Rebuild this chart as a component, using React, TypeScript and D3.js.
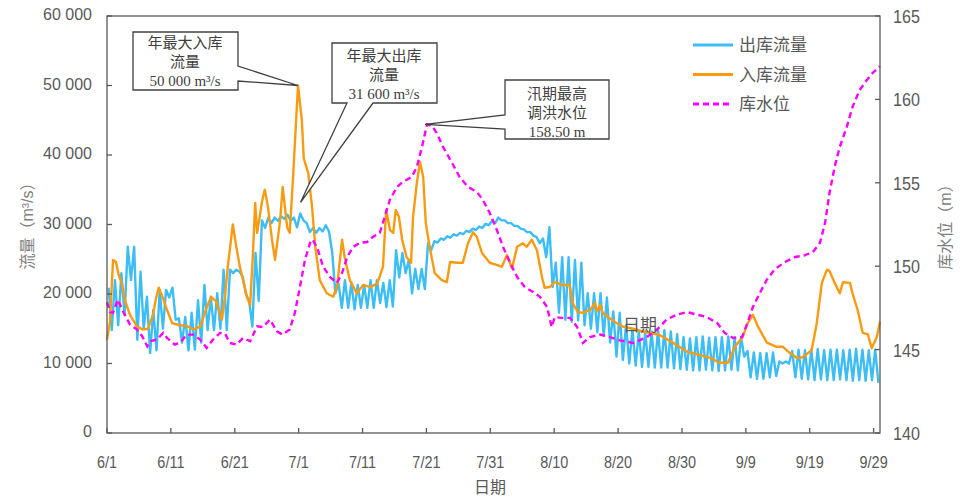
import React from 'react';
import * as d3 from 'd3';

// days counted from 6/1 (day 0) to the end of 9/30 (day 121)
const dateLabels = ['6/1', '6/11', '6/21', '7/1', '7/11', '7/21', '7/31', '8/10', '8/20', '8/30', '9/9', '9/19', '9/29'];
const flowTicks = [0, 10000, 20000, 30000, 40000, 50000, 60000];
const levelTicks = [140, 145, 150, 155, 160, 165];

// 入库流量 [day, m3/s]
const inflow: [number, number][] = [
  [0, 13400], [0.47, 16000], [0.94, 24900], [1.4, 24600], [1.9, 22500], [2.35, 21500], [2.8, 19100],
  [3.6, 17000], [4.7, 15300], [5.6, 14900], [6.4, 15000], [7.2, 17000], [7.7, 19500], [8.1, 20900],
  [8.6, 19800], [9.4, 17700], [10.2, 15800], [11.4, 15500], [12.5, 15400], [13.5, 14900], [14.6, 15300],
  [15.5, 17800], [16.3, 19600], [17.1, 18900], [18.0, 16300], [18.5, 20000], [18.9, 23900], [19.7, 30000],
  [20.2, 27000], [20.8, 23900], [21.9, 19600], [22.4, 18400], [22.8, 25000], [23.2, 33100], [23.5, 28800],
  [24.3, 33500], [24.7, 35000], [25.2, 32500], [25.8, 28000], [26.3, 24900], [27.1, 30600], [27.5, 35400],
  [28.2, 29600], [28.6, 28800], [29.1, 36400], [29.9, 50000], [30.5, 45000], [30.8, 39500], [31.5, 37400],
  [32.1, 32500], [32.6, 26800], [33.3, 22000], [34.4, 20100], [35.4, 19600], [36.0, 21000], [36.8, 27800],
  [37.2, 25300], [38.0, 22000], [39.1, 20100], [40.1, 21300], [41.2, 21000], [42.3, 21500], [43.2, 23900],
  [43.7, 32100], [44.3, 29200], [44.8, 28800], [45.2, 32100], [45.7, 31100], [46.2, 27800], [46.9, 25300],
  [47.6, 24500], [47.9, 31000], [48.5, 36000], [49.0, 39000], [49.5, 36800], [49.9, 30200], [50.5, 26800],
  [51.3, 23000], [52.4, 22000], [53.2, 21700], [53.7, 24600], [54.8, 24500], [55.7, 24500], [56.5, 27300],
  [57.3, 28900], [57.9, 28200], [58.7, 25900], [59.9, 24500], [61.0, 24200], [61.8, 23900], [62.6, 25600],
  [63.4, 23700], [64.2, 26800], [65.1, 27300], [65.7, 26800], [66.5, 27800], [67.3, 26300], [68.1, 22400],
  [68.5, 20900], [69.3, 21000], [70.1, 21700], [71.2, 21300], [72.4, 21300], [72.9, 18700], [73.7, 17400],
  [74.5, 17300], [75.6, 17700], [76.4, 18700], [76.7, 17500], [77.2, 18400], [77.6, 17300], [78.7, 16500],
  [79.8, 15800], [80.8, 15300], [82.3, 15000], [83.9, 14600], [86.5, 14100], [88.6, 13000], [90.8, 11700],
  [92.8, 11200], [94.4, 10800], [95.9, 10100], [97.2, 10100], [98.3, 12400], [99.5, 13800], [100.3, 15800],
  [101.1, 17000], [101.9, 15300], [103.3, 13000], [104.8, 12400], [105.8, 12400], [106.9, 11500],
  [108.0, 10800], [108.9, 10900], [110.3, 11900], [111.1, 15800], [111.9, 21600], [112.7, 23500],
  [113.1, 23300], [113.9, 21600], [114.7, 20100], [115.2, 21700], [116.3, 21600], [116.7, 20100],
  [117.5, 17700], [118.3, 14400], [119.1, 14200], [119.7, 12200], [120.5, 13800], [121, 16000],
];

// 出库流量: daily peak and trough, m3/s
const outflowHigh = [
  20900, 22000, 23000, 26800, 26800, 23200, 19600, 17700, 20600, 20600,
  20900, 16500, 16700, 17300, 19100, 21300, 19600, 20100, 23500, 23500,
  23500, 22500, 19000, 25900, 30600, 31000, 31000, 31200, 31400, 31000,
  31600, 30200, 29500, 29500, 29900, 26000, 21500, 22000, 21600, 21300,
  21300, 22000, 22000, 21600, 22000, 26300, 25900, 24900, 23600, 23600,
  27300, 27600, 28000, 28300, 28600, 28800, 29100, 29400, 29700, 30100,
  30500, 31000, 30600, 30200, 29800, 29300, 28900, 28200, 28000, 29600,
  24500, 25300, 25300, 24900, 24500, 20100, 20100, 20100, 19500, 17500,
  17300, 15500, 15000, 14600, 14600, 14600, 14800, 14800, 14600, 14200,
  13800, 13600, 13800, 13900, 13700, 13800, 13800, 13900, 13800, 13800,
  11800, 11600, 11500, 11500, 11600, 10300, 10300, 11800, 12000, 11900,
  12000, 12100, 11900, 12000, 12000, 11900, 12000, 12100, 12000, 11900,
  12000,
];
const outflowLow = [
  14800, 15500, 17000, 22000, 13400, 15000, 11500, 11900, 15000, 19500,
  16300, 13000, 11900, 12000, 13000, 14800, 14800, 15000, 14800, 23000,
  23200, 20000, 15300, 19000, 29500, 30200, 30500, 30800, 30500, 29600,
  30600, 28900, 28800, 29000, 29000, 20100, 18000, 18000, 17800, 18000,
  18000, 18000, 18700, 18100, 18200, 22400, 23000, 20100, 20700, 20700,
  26300, 27400, 27800, 28100, 28400, 28600, 28900, 29200, 29500, 29900,
  30200, 30600, 30200, 29800, 29400, 28900, 28400, 27300, 25300, 21000,
  17300, 16300, 16000, 16200, 15500, 15000, 14500, 14000, 13000, 11000,
  10500, 10000, 9700, 9500, 9500, 9400, 9400, 9400, 9300, 9200,
  9100, 9000, 9000, 9100, 9000, 8900, 9000, 9100, 9000, 11000,
  8000, 7800, 7800, 8000, 8200, 10000, 10000, 8000, 7800, 7700,
  7600, 7700, 7600, 7600, 7700, 7600, 7500, 7600, 7500, 7600,
  7200,
];

// 库水位 [day, m]
const level: [number, number][] = [
  [0, 147.85], [0.47, 147.25], [0.94, 147.2], [1.7, 148.0], [2.5, 147.3], [3.6, 146.5], [4.7, 146.2],
  [5.5, 145.8], [6.3, 145.2], [6.7, 145.5], [7.8, 145.6], [8.8, 146.0], [9.4, 145.7], [10.6, 145.3],
  [11.4, 145.4], [12.5, 145.9], [13.5, 145.9], [14.6, 145.6], [15.6, 145.1], [16.6, 145.6], [17.7, 146.0],
  [18.5, 145.95], [19.2, 145.4], [20.3, 145.3], [21.3, 145.7], [22.4, 145.5], [23.5, 146.4], [24.4, 146.35],
  [25.5, 146.8], [26.6, 146.1], [27.5, 145.9], [28.6, 146.2], [29.4, 147.2], [30.2, 148.75], [31.0, 150.4],
  [31.8, 151.4], [32.2, 151.6], [33.0, 151.0], [33.8, 150.0], [34.9, 149.35], [36.0, 149.0], [36.8, 149.6],
  [37.6, 150.55], [38.5, 151.15], [39.6, 151.4], [40.7, 151.45], [41.6, 151.75], [42.7, 152.0], [43.5, 153.0],
  [44.3, 154.0], [45.4, 154.75], [46.3, 155.05], [47.7, 155.35], [48.5, 155.95], [49.3, 157.15], [50.1, 158.5],
  [50.9, 158.4], [51.6, 158.0], [52.6, 157.15], [54.0, 156.2], [55.2, 155.35], [56.5, 154.75], [57.9, 154.45],
  [58.8, 154.0], [59.9, 153.2], [61.0, 152.2], [62.0, 151.15], [63.1, 150.2], [64.2, 149.35], [65.4, 148.75],
  [66.7, 148.45], [67.8, 148.15], [68.9, 147.55], [69.6, 146.35], [70.1, 146.95], [71.2, 146.9], [72.5, 146.9],
  [73.6, 146.35], [74.5, 145.4], [75.6, 145.75], [77.2, 145.9], [78.7, 145.75], [80.3, 145.55], [82.4, 145.4],
  [84.5, 145.75], [86.1, 146.2], [87.6, 146.8], [89.2, 147.1], [90.8, 147.25], [92.3, 147.1], [93.9, 146.95],
  [95.5, 146.6], [96.7, 146.0], [98.0, 145.7], [99.4, 145.75], [100.3, 146.65], [101.1, 147.55], [102.2, 148.4],
  [103.3, 149.2], [104.5, 149.8], [106.1, 150.25], [107.7, 150.55], [109.2, 150.65], [110.5, 150.85],
  [111.6, 151.4], [112.4, 152.6], [113.1, 154.4], [113.9, 155.95], [114.7, 157.15], [115.8, 158.35],
  [116.7, 159.55], [117.8, 160.55], [118.9, 161.15], [119.9, 161.6], [121, 162.0],
];

const BLUE = '#3dbdf5';
const ORANGE = '#f99b12';
const MAGENTA = '#ff00ff';
const AXIS = '#595959';
const TXT = '#595959';
const SANS = "'Liberation Sans', Arial, 'Noto Sans CJK SC', sans-serif";
const SERIF = "'Liberation Serif', 'Times New Roman', 'Noto Sans CJK SC', serif";

export default function App() {
  const left = 107, right = 880, top = 16, bottom = 433;
  const x = d3.scaleLinear().domain([0, 121]).range([left, right]);
  const yF = d3.scaleLinear().domain([0, 60000]).range([bottom, top]);
  const yL = d3.scaleLinear().domain([140, 165]).range([bottom, top]);

  const lineF = d3.line<[number, number]>().x(d => x(d[0])).y(d => yF(d[1]));
  const lineL = d3.line<[number, number]>().x(d => x(d[0])).y(d => yL(d[1]));

  const outflow: [number, number][] = outflowHigh.flatMap((h, i) => [
    [i + 0.25, h] as [number, number],
    [i + 0.75, outflowLow[i]] as [number, number],
  ]);

  const fmt = (v: number) => d3.format(',')(v).replace(/,/g, ' ');

  // callout tips taken from the data extremes (flood season = before 8/1)
  const inPeak = inflow.reduce((a, b) => (b[1] > a[1] ? b : a));
  const flood = level.filter(d => d[0] < 60);
  const lvPeak = flood.reduce((a, b) => (b[1] > a[1] ? b : a));
  const t1 = [x(inPeak[0]), yF(inPeak[1])];
  const t2 = [x(30.3), yF(33200)];
  const t3 = [x(lvPeak[0]) - 2, yL(lvPeak[1])];

  const callouts = [
    {
      d: `M133,32 H238 V66 L${t1[0]},${t1[1]} L238,81 V90 H133 Z`,
      cx: 185, lines: ['年最大入库', '流量', '50 000 m³/s'], y0: 48,
    },
    {
      d: `M332,43 H437 V103 H373 L${t2[0]},${t2[1]} L347,103 H332 Z`,
      cx: 384, lines: ['年最大出库', '流量', '31 600 m³/s'], y0: 61,
    },
    {
      d: `M505,80 H609 V139 H505 V129 L${t3[0]},${t3[1]} L505,115 Z`,
      cx: 557, lines: ['汛期最高', '调洪水位', '158.50 m'], y0: 99,
    },
  ];

  const legend = [
    { name: '出库流量', color: BLUE, dash: undefined },
    { name: '入库流量', color: ORANGE, dash: undefined },
    { name: '库水位', color: MAGENTA, dash: '6 4' },
  ];

  return (
    <div style={{ position: 'absolute', left: 0, top: 0 }}>
      <svg width={960} height={501} style={{ display: 'block', background: '#fff' }}>
        {/* series */}
        <path d={lineF(outflow) || ''} fill="none" stroke={BLUE} strokeWidth={2.4} strokeLinejoin="round" />
        <path d={lineF(inflow) || ''} fill="none" stroke={ORANGE} strokeWidth={2.4} strokeLinejoin="round" />
        <path d={lineL(level) || ''} fill="none" stroke={MAGENTA} strokeWidth={2.4} strokeDasharray="6 4" />

        {/* frame */}
        <rect x={left} y={top} width={right - left} height={bottom - top} fill="none" stroke={AXIS} strokeWidth={1.3} />

        {/* left axis */}
        {flowTicks.map(v => (
          <g key={'f' + v}>
            <line x1={left} x2={left + 5} y1={yF(v)} y2={yF(v)} stroke={AXIS} strokeWidth={1.3} />
            <text x={92} y={yF(v) + 4} textAnchor="end" fontFamily={SANS} fontSize={16} fill={TXT}>{fmt(v)}</text>
          </g>
        ))}
        <text transform={`translate(27,222) rotate(-90)`} textAnchor="middle" dy="0.35em"
              fontFamily={SANS} fontSize={16} fill="#7f7f7f">流量（m³/s）</text>

        {/* right axis */}
        {levelTicks.map(v => (
          <g key={'l' + v}>
            <line x1={right - 5} x2={right} y1={yL(v)} y2={yL(v)} stroke={AXIS} strokeWidth={1.3} />
            <text transform={`translate(893,${yL(v) + 7}) scale(0.85,1)`} fontFamily={SANS} fontSize={19} fill={TXT}>{v}</text>
          </g>
        ))}
        <text transform={`translate(945,223) rotate(-90)`} textAnchor="middle" dy="0.35em"
              fontFamily={SANS} fontSize={16} fill="#7f7f7f">库水位（m）</text>

        {/* bottom axis */}
        {dateLabels.map((lab, i) => (
          <g key={lab}>
            <line x1={x(i * 10)} x2={x(i * 10)} y1={bottom} y2={bottom - 5} stroke={AXIS} strokeWidth={1.3} />
            <text transform={`translate(${x(i * 10)},468) scale(0.85,1)`} textAnchor="middle"
                  fontFamily={SANS} fontSize={17} fill={TXT}>{lab}</text>
          </g>
        ))}
        <text x={490} y={493} textAnchor="middle" fontFamily={SANS} fontSize={16} fill={TXT}>日期</text>
        <text x={640} y={331} textAnchor="middle" fontFamily={SANS} fontSize={17} fill={TXT}>日期</text>

        {/* legend */}
        {legend.map((s, i) => (
          <g key={s.name} transform={`translate(693,${45 + i * 29.5})`}>
            <line x1={0} x2={40} y1={0} y2={0} stroke={s.color} strokeWidth={3} strokeDasharray={s.dash} />
            <text x={46} y={6} fontFamily={SANS} fontSize={17} fill={TXT}>{s.name}</text>
          </g>
        ))}

        {/* callouts */}
        {callouts.map((c, i) => (
          <g key={i}>
            <path d={c.d} fill="#fff" stroke="#404040" strokeWidth={1.3} strokeLinejoin="miter" />
            {c.lines.map((t, j) => (
              <text key={j} x={c.cx} y={c.y0 + j * 19} textAnchor="middle" fontFamily={SERIF}
                    fontSize={15} fill="#404040">{t}</text>
            ))}
          </g>
        ))}
      </svg>
    </div>
  );
}
